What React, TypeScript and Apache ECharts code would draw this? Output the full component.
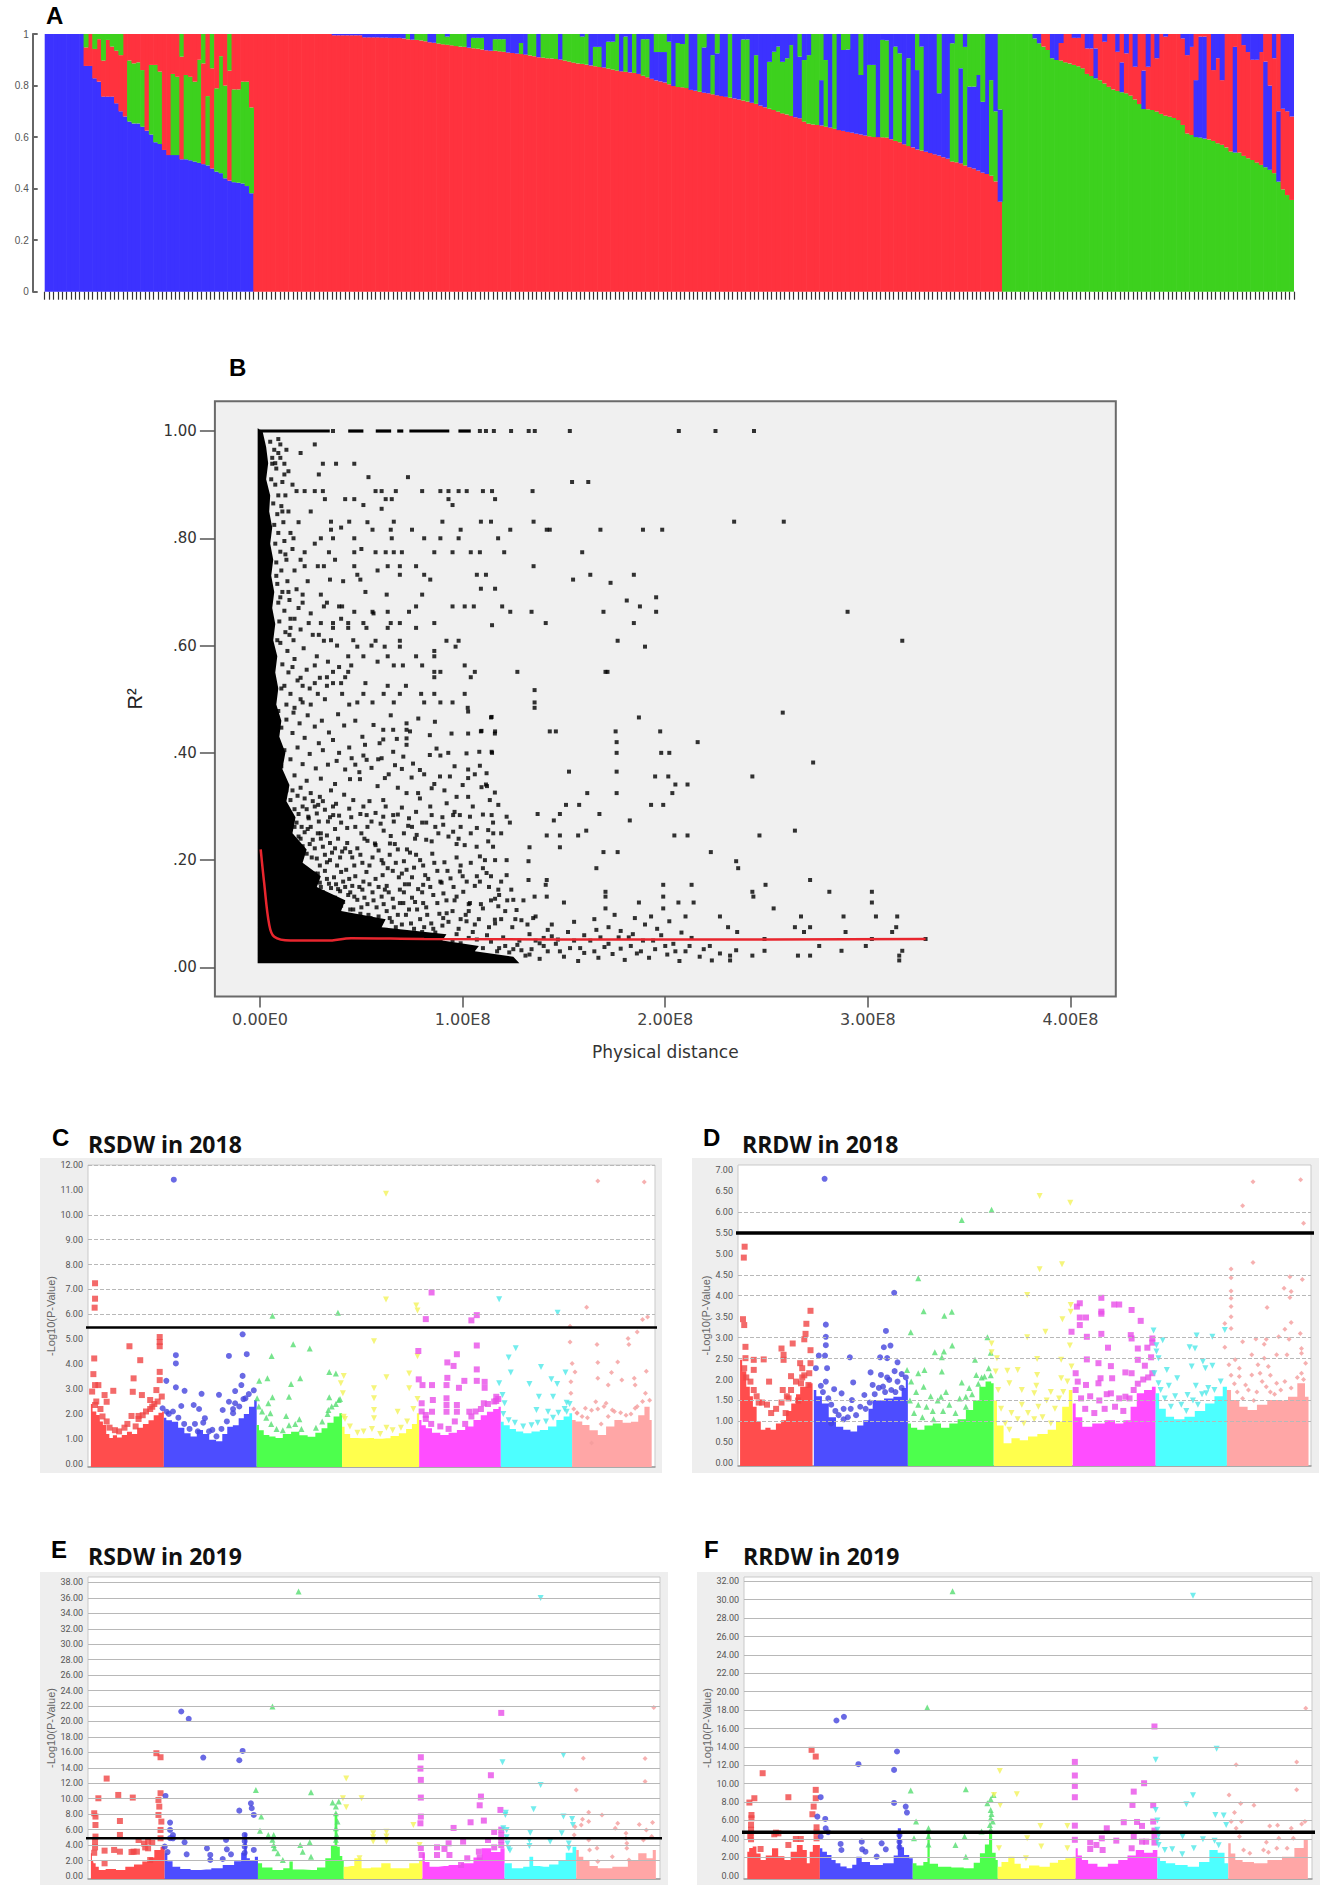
import { useEffect, useRef } from 'react';
import * as echarts from 'echarts';

// ---- A: structure barplot, read per bar (top of first colour, top of second colour, second colour)
const blueTop = [1,1,1,1,1,1,1,1,1,.876,.876,.828,.815,.757,.757,.757,.731,.70,.68,.66,.653,.653,.64,.625,.61,.58,.573,.55,.53,.53,.53,.514,.514,.51,.505,.50,.495,.49,.478,.466,.46,.44,.431,.425,.423,.42,.41,.382];
const blueMid = [1,1,1,1,1,1,1,1,1,.948,1,.942,.98,.897,.977,.951,.935,.918,1,.897,.886,.89,.86,1,.88,.88,.854,1,1,.845,.834,.912,.841,.834,.815,.90,.886,.759,.867,.789,.914,.80,.858,.785,.785,.815,.815,.715];
const blueSecond = 'rrrrrrrrrr' + 'rrrrrrrrrg' + 'gggrgggrrg' + 'grggggrgrg' + 'ggrggggg';

const redTop = [1,1,1,1,1,1,1,1,1,1,1,1,1,1,1,1,1,1,.995,.995,.995,.995,.995,.995,.995,.987,.987,.987,.987,.986,.986,.985,.985,.985,.983,
  .98,.978,.977,.975,.972,.968,.966,.963,.96,.958,.956,.953,.951,.95,.947,.945,.943,.94,.937,.935,.935,.933,.931,.928,.926,.924,.922,.92,.917,.914,.91,.908,.906,.905,.903,.901,.897,.893,.889,.886,.884,.881,.878,.875,.872,.87,.866,.862,.858,.855,.853,.851,.849,.845,.838,.832,.826,.82,.816,.812,.805,.798,.794,
  .793,.79,.783,.78,.776,.772,.77,.766,.762,.759,.756,.753,.75,.746,.742,.738,.733,.729,.722,.716,.71,.705,.699,.692,.688,.682,.677,.673,.66,.652,.649,.647,.645,.64,.637,.632,.627,.624,.62,.617,.613,.61,.606,.603,.6,.6,.599,.598,.592,.585,.58,.572,.565,.56,.552,.548,.543,.538,.533,.528,.522,.516,.505,.502,.498,.49,.483,.478,.47,.462,.457,.45,.428,.349];
const redMid = [1,1,1,1,1,1,1,1,1,1,1,1,1,1,1,1,1,1,1,1,1,1,1,1,1,1,1,1,1,1,1,1,1,1,1,
  1,1,1,1,1,1,1,1,1,.99,1,1,1,1,1,.985,.985,.985,1,1,.98,.98,.98,1,1,1,.965,1,1,1,1,1,1,1,1,1,1,1,1,1,.99,1,1,.95,.95,1,.97,.97,1,1,.99,1,1,1,.98,.98,1,.93,.93,.93,.97,1,.965,
  .961,1,1,1,1,.948,1,.918,.925,1,1,1,1,1,.979,.979,1,.918,1,1,.892,.931,.951,.892,.906,.957,1,.912,.899,.918,1,1,.821,.899,1,1,1,.938,.94,1,1,.841,1,.88,.88,1,.977,.975,1,.951,.925,1,.906,1,.86,.951,1,1,1,.77,1,1,.964,1,.867,.95,.796,.796,.841,.737,1,.821,.70,.707];
const redSecond = 'bbbbbbbbbb' + 'bbbbbbbbbb' + 'bbbbbbbbbb' + 'bbbbbgbggg' + 'bbgggggggb' + 'gggbbgggbb' + 'bgbggbgggg' + 'bggggggbgg' + 'bgggbgbgbg' + 'gbbbbgbggg'
  + 'bbgbbgbbbg' + 'bbggbgbbgg' + 'ggggbbgggg' + 'bgbgbbbbbb' + 'bggbggbggb' + 'gbbgbbbbbb' + 'ggbgbbbbbg' + 'gb';

const greenTop = [1,1,1,1,1,1,1,.983,.964,.951,.938,.906,.899,.897,.89,.886,.88,.875,.867,.845,.837,.828,.821,.808,.795,.785,.779,.774,.77,.761,.746,.728,.709,.708,.705,.699,.69,.683,.679,.674,.666,.647,.614,.608,.60,.598,.594,.591,.585,.576,.57,.56,.544,.54,.54,.527,.518,.511,.501,.492,.483,.473,.46,.427,.397,.375,.356];
const greenMid = [1,1,1,1,1,1,1,1,1,1,1,1,1,.965,1,1,.985,.985,1,.944,.944,.944,1,.97,1,1,.931,.89,.925,1,.873,1,.858,.873,1,.906,1,.99,1,1,1,.983,.918,.95,.821,.99,.99,1,.86,.906,.821,1,1,.95,1,.957,.93,.9,.9,.93,.893,.80,.906,.70,.71,.70,.68];
const greenSecond = 'rrrrrrrbbr' + 'rbbrrrrrrr' + 'rbrrrrrbrr' + 'rrbrrrrrrr' + 'rrrrbbbrrr' + 'rrrbrrrrrr' + 'bbrbrrr';

const structureTicks = [0, 0.2, 0.4, 0.6, 0.8, 1];

// ---- B: LD decay (distance in units of 1e8, R2)
const ldXTicks = [0, 1, 2, 3, 4];
const ldYTicks = [0, 0.2, 0.4, 0.6, 0.8, 1];
const ldCurve = [[.003,.22],[.02,.158],[.045,.08],[.07,.057],[.15,.05],[.33,.05],[.45,.0545],[.81,.053],[2.02,.052],[3.285,.053]];
// solid black where the points merge
const ldMass = [[-.012,1.005],[.012,1],[.03,.97],[.04,.94],[.03,.91],[.05,.88],[.045,.85],[.06,.82],[.05,.79],[.065,.76],[.055,.73],[.07,.7],[.06,.67],[.075,.64],[.065,.61],[.085,.58],[.075,.55],[.09,.52],[.08,.49],[.105,.46],[.095,.43],[.125,.40],[.11,.37],[.145,.34],[.13,.31],[.175,.28],[.16,.25],[.23,.22],[.21,.195],[.3,.17],[.28,.15],[.42,.125],[.4,.105],[.62,.09],[.6,.075],[.92,.062],[.9,.05],[1.08,.04],[1.06,.03],[1.25,.02],[1.28,.008],[-.012,.008]];
const ldTopRuns = [[0,.344],[.435,.51],[.571,.647],[.677,.707],[.737,.934],[.979,1.04]];
const ldRows: [number, number[]][] = [
  [1,[.36,1.085,1.115,1.154,1.239,1.326,1.356,1.529,2.067,2.248,2.438]],
  [.975,[.1,.27]],[.959,[.09,.2]],[.939,[.06,.12,.31,.375,.465]],[.919,[.12,.29]],[.914,[.535,.73]],[.905,[1.54,1.62]],
  [.888,[.18,.22,.27,.31,.57,.6,.67,.8,.89,.93,.98,1.02,1.1,1.145,1.345]],
  [.873,[.32,.42,.465,.62,.65,.93,1.16]],[.862,[.95,.51]],[.855,[.6]],
  [.831,[.35,.44,.66,.9,1.09,1.14,1.35,2.34,2.585]],
  [.816,[.35,.555,.645,.75,.99,1.235,1.415,1.43,1.68,1.89,1.985]],
  [.8,[.165,.3,.36,.465,.65,.81,.89,.98,1.175]],
  [.774,[.22,.34,.465,.57,.62,.66,.7,.86,.95,1.04,1.085,1.205,1.59]],
  [.748,[.22,.285,.315,.465,.63,.69,.77,1.35]],
  [.732,[.48,.69,.81,1.07,1.115,1.63,1.845]],[.723,[.345,.495,.84,1.545]],[.717,[1.73]],[.706,[1.09,1.16]],
  [.695,[.21,.3,.625,.8]],[.684,[1.81]],[.69,[1.955]],
  [.673,[.315,.39,.405,.77,.95,1.01,1.055,1.195,1.875]],
  [.663,[.465,.555,.63,.735,1.235,1.34,1.695,1.955,2.9]],
  [.642,[.24,.3,.36,.435,.51,.645,.69,.86,1.41,1.845]],[.638,[1.145]],
  [.633,[.15,.36,.435,.525,.63,.77]],
  [.609,[.315,.57,.69,.92,.98,1.765,3.17]],[.598,[.48,.615,.69,.965,1.9]],[.59,[.86]],
  [.58,[.435,.51,.63,.77,.86]],[.563,[.27,.45,.66,.705,.8,1.01]],
  [.551,[.36,.435,.86,.89,1.06,1.27,1.705,1.715]],[.541,[.33,.42,.86,1.04]],
  [.525,[.21,.33,.63,.72]],[.517,[1.355]],[.51,[.285,.405,.51,.69,.795,.86,1.01]],
  [.494,[.21,.48,.555,.66,.81,.89,.95,1.355]],[.484,[1.355,1.025]],[.475,[2.58]],
  [.466,[1.14,1.87]],[.44,[1.09,1.16,1.43,1.46,1.755,1.975]],[.42,[1.76,2.16]],[.4,[1.145,1.76,1.98,2.02]],[.382,[2.73]],
  [.365,[1.525,1.76]],[.356,[1.95,2.015,2.43]],[.341,[1.115,2.05,2.11]],[.325,[1.615,1.76,2.035]],
  [.303,[1.51,1.575,1.93,1.99]],[.286,[1.37,1.48,1.675]],[.274,[1.45,1.825]],[.255,[1.61,2.64]],
  [.246,[1.415,1.48,1.57,2.045,2.11,2.465]],[.224,[1.33,1.48]],[.215,[1.695,1.765,2.225]],
  [.198,[1.325,2.35]],[.185,[1.66,2.36]],[.163,[1.325,1.415,2.715]],[.154,[1.41,1.99,2.13,2.495]],
  [.141,[1.705,2.43,2.81,3.02]],[.132,[1.355,1.415,1.705,1.99,2.435]],[.121,[1.5,1.87,2.065,2.14,3.02]],
  [.11,[1.705,1.99,2.535]],[.095,[1.93,2.1,2.27,2.67,2.88,3.04,3.145]],[.075,[2.31,2.64,2.715,3.14]],
  [.066,[2.355,2.685,2.89,3.12]],[.053,[2.49,3.02,3.285]],[.04,[2.76,2.99]],[.031,[2.49,2.87,3.17]],
  [.022,[2.32,2.43,2.655,2.715,3.155]],[.013,[2.23,2.32,3.155]],
];
// upper halo beside the solid column
const ldHalo = [
  [.05,.98],[.07,.965],[.09,.985],[.06,.95],[.08,.93],[.1,.95],[.13,.965],[.055,.91],[.075,.9],[.09,.88],[.11,.905],[.14,.925],[.065,.865],[.085,.845],[.105,.86],[.125,.88],[.16,.9],[.07,.825],[.09,.81],[.115,.83],[.14,.85],[.075,.79],[.1,.775],[.12,.795],[.15,.81],[.19,.83],[.08,.755],[.105,.74],[.13,.76],[.16,.78],[.085,.715],[.11,.7],[.135,.72],[.17,.74],[.2,.76],[.09,.68],[.12,.665],[.145,.685],[.18,.705],[.235,.72],[.095,.645],[.125,.625],[.15,.65],[.19,.67],[.1,.605],[.135,.59],[.165,.61],[.2,.63],[.25,.66],[.11,.565],[.14,.55],[.17,.575],[.215,.595],[.26,.62],[.12,.525],[.15,.51],[.185,.535],[.23,.555],[.28,.58],[.13,.49],[.165,.475],[.2,.5],[.245,.52],[.295,.54],[.335,.57],[.38,.6],[.4,.53],[.44,.49],[.52,.53],[.58,.57],[.61,.51],[.55,.6],[.4,.65],[.46,.61],[.33,.68],[.41,.72],[.52,.7],[.56,.66],[.37,.76],[.5,.78],[.27,.79],[.4,.82],[.58,.74],[.53,.83],[.25,.85],[.14,.7],[.2,.54],[.125,.77],[.085,.61],[.105,.52],[.16,.56],[.1,.69],[.17,.65],[.08,.73],[.145,.62],[.21,.68],[.11,.85],[.075,.94],[.27,.53],[.32,.5],[.36,.53],[.25,.49],[.29,.62],[.35,.61],[.39,.56],
];
// clumps in the speckled part of the cloud
const ldCloud = [
  [1.027,.477],[1.143,.467],[.863,.458],[.781,.464],[.723,.455],[.723,.443],[.608,.443],[.657,.443],[.838,.433],[.945,.436],[1.027,.436],[1.093,.441],[1.159,.436],[.723,.427],[.608,.425],[.518,.415],[.723,.415],[.657,.402],[.707,.393],[.838,.396],[.871,.408],[.929,.4],[1.019,.399],[1.082,.402],[1.143,.402],[.378,.385],[.526,.387],[.583,.388],[.452,.39],[.666,.377],[.789,.368],[1.085,.376],[1.027,.369],[1.118,.362],[.616,.353],[.444,.351],[.493,.351],[.937,.356],[1.027,.353],[.748,.354],[.888,.356],[1.093,.336],[1.159,.326],[.789,.315],[.847,.334],[.723,.325],[.608,.312],[.97,.318],[1.027,.318],[.921,.306],[1.134,.312],[1.176,.303],[.847,.284],[1.036,.281],[.986,.284],[.953,.284],[1.143,.284],[1.217,.281],[1.233,.27],[.608,.281],[.657,.284],[.526,.284],[.238,.281],[.361,.284],[.287,.303],[.731,.264],[.773,.247],[.904,.266],[.953,.253],[1.126,.256],[1.151,.25],[1.126,.235],[1.069,.225],[.567,.231],[.641,.231],[.847,.235],[.97,.23],[1.085,.207],[1.217,.2],[.986,.179],[1.118,.176],[1.217,.172],[.896,.158],[1.003,.141],[1.176,.145],[1.085,.16],[.805,.154],[.723,.182],[.608,.194],[.69,.145],[.616,.145],[.921,.101],[1.036,.12],[1.176,.114],[1.25,.126],[1.266,.107],[1.348,.092],[1.159,.089],[1.019,.086],[.904,.092],[.805,.12],[.707,.12],
  [.09,.478],[.13,.462],[.105,.447],[.17,.484],[.195,.455],[.16,.437],[.235,.47],[.27,.449],[.22,.428],[.305,.46],[.34,.438],[.29,.418],[.385,.472],[.415,.451],[.36,.424],[.47,.46],[.505,.43],[.44,.41],[.56,.452],[.59,.418],[.645,.47],[.675,.426],[.74,.44],
  [.12,.405],[.15,.388],[.105,.375],[.185,.41],[.21,.379],[.17,.358],[.245,.398],[.275,.371],[.23,.348],[.31,.405],[.335,.378],[.3,.352],[.39,.4],[.42,.369],[.37,.342],[.47,.378],[.51,.395],[.49,.364],[.55,.372],[.6,.39],[.58,.338],[.635,.36],[.7,.37],[.68,.335],[.755,.38],[.81,.36],[.78,.325],[.89,.395],[.86,.342],[.91,.33],[.96,.375],[1.0,.34],[1.06,.36],[1.12,.338],
  [.13,.33],[.15,.312],[.17,.295],[.2,.335],[.22,.315],[.19,.286],[.25,.325],[.27,.3],[.24,.278],[.295,.318],[.32,.294],[.29,.272],[.35,.33],[.375,.305],[.345,.28],[.415,.322],[.44,.296],[.4,.27],[.46,.312],[.495,.286],[.47,.262],[.54,.31],[.57,.288],[.53,.262],[.595,.268],[.62,.3],[.66,.272],[.645,.245],[.7,.298],[.735,.278],[.71,.25],[.77,.29],[.8,.27],[.765,.24],[.84,.3],[.865,.262],[.82,.238],[.9,.28],[.93,.244],[.96,.29],[.99,.262],[1.01,.228],[1.05,.3],[1.07,.26],[1.1,.285],[1.15,.27],[1.19,.25],[1.15,.225],
  [.17,.262],[.19,.244],[.21,.226],[.235,.258],[.26,.238],[.23,.212],[.285,.25],[.31,.225],[.28,.203],[.33,.246],[.355,.214],[.33,.196],[.385,.24],[.405,.216],[.38,.19],[.43,.232],[.455,.205],[.425,.182],[.48,.222],[.505,.195],[.47,.17],[.53,.236],[.555,.205],[.525,.178],[.585,.218],[.605,.172],[.64,.21],[.655,.18],[.625,.152],[.68,.22],[.71,.198],[.685,.168],[.74,.214],[.76,.186],[.735,.155],[.79,.2],[.815,.172],[.78,.146],[.85,.212],[.875,.18],[.84,.15],[.91,.196],[.94,.166],[.905,.138],[.97,.205],[1.0,.17],[.97,.132],[1.04,.195],[1.06,.152],[1.03,.118],[1.1,.185],[1.13,.15],[1.09,.118],[1.16,.2],[1.19,.16],[1.16,.128],[1.24,.145],[1.21,.105],[1.3,.125],[1.29,.088],
  [.27,.175],[.295,.158],[.32,.18],[.34,.156],[.31,.14],[.365,.168],[.385,.146],[.355,.125],[.41,.16],[.435,.135],[.4,.115],[.455,.152],[.48,.126],[.445,.108],[.505,.145],[.53,.118],[.495,.1],[.555,.14],[.575,.112],[.545,.092],[.6,.132],[.625,.105],[.655,.128],[.68,.098],[.65,.085],[.71,.14],[.735,.108],[.7,.08],[.765,.122],[.79,.09],[.76,.072],[.82,.112],[.845,.082],[.875,.12],[.9,.078],[.865,.065],[.95,.105],[.98,.072],[1.015,.098],[1.05,.066],[1.08,.09],[1.12,.06],[1.16,.082],[1.2,.056],[1.245,.075],[1.28,.05],[1.33,.062],[1.38,.045],[1.42,.07],[1.47,.052],
  [1.18,.036],[1.23,.028],[1.27,.042],[1.31,.022],[1.34,.034],[1.38,.016],[1.42,.03],[1.46,.044],[1.5,.02],[1.53,.036],[1.57,.012],[1.6,.027],[1.63,.05],[1.67,.018],[1.7,.038],[1.74,.025],[1.77,.056],[1.8,.014],[1.83,.04],[1.86,.026],[1.89,.05],[1.92,.018],[1.95,.034],[1.98,.06],[2.01,.024],[2.04,.044],[2.07,.012],[2.1,.03],[2.13,.055],[2.17,.02],[2.22,.04],[2.27,.026],[2.35,.032],[1.44,.058],[1.52,.066],[1.6,.06],[1.66,.07],[1.72,.075],[1.78,.068],[1.84,.062],[1.9,.08],[1.96,.072],[2.02,.086],[2.08,.065],[1.55,.085],[1.65,.09],[1.75,.098],[1.85,.092],
];
// the darkest speckle, low on the left
const ldCloudDense = [
  [.16,.33],[.185,.32],[.21,.3],[.14,.29],[.23,.295],[.18,.27],[.26,.31],[.205,.262],[.31,.31],[.28,.287],[.25,.262],[.36,.3],[.335,.272],[.3,.25],[.39,.283],[.43,.26],[.37,.258],[.45,.28],[.51,.3],[.55,.272],[.5,.25],[.61,.255],[.68,.285],[.75,.262],[.82,.27],[.88,.25],[.98,.24],[1.04,.25],
  [.2,.24],[.22,.252],[.245,.23],[.27,.222],[.255,.205],[.3,.24],[.32,.21],[.295,.19],[.345,.232],[.37,.222],[.345,.2],[.395,.205],[.42,.222],[.4,.178],[.445,.215],[.465,.19],[.44,.165],[.495,.21],[.515,.24],[.54,.19],[.51,.16],[.57,.228],[.6,.2],[.57,.165],[.63,.185],[.665,.23],[.67,.195],[.7,.175],[.725,.22],[.75,.168],[.77,.21],[.805,.19],[.83,.165],[.86,.195],[.89,.16],[.925,.18],[.955,.15],[.99,.19],[1.02,.16],[1.07,.17],[1.11,.2],[1.14,.17],[1.18,.135],
  [.24,.17],[.26,.158],[.285,.175],[.3,.15],[.33,.165],[.32,.135],[.35,.148],[.375,.155],[.37,.13],[.395,.142],[.42,.15],[.41,.122],[.445,.14],[.465,.132],[.46,.108],[.49,.15],[.515,.13],[.5,.112],[.54,.155],[.56,.125],[.535,.098],[.585,.15],[.61,.118],[.585,.095],[.635,.14],[.66,.112],[.64,.092],[.69,.12],[.715,.155],[.72,.098],[.75,.13],[.775,.108],[.745,.082],[.8,.14],[.825,.098],[.81,.075],[.855,.135],[.885,.1],[.855,.072],[.92,.125],[.93,.085],[.96,.125],[.99,.09],[.97,.062],[1.03,.105],[1.06,.08],[1.1,.11],[1.13,.075],[1.14,.125],[1.19,.09],[1.22,.125],[1.26,.09],[1.32,.08],[1.36,.095],[1.4,.055],[1.44,.08],
  [.44,.095],[.47,.088],[.51,.082],[.54,.076],[.58,.08],[.62,.07],[.67,.075],[.72,.065],[.77,.058],[.8,.066],[.84,.052],[.88,.056],[.95,.05],[.99,.045],[1.03,.055],[1.07,.052],[1.1,.036],[1.14,.048],[1.17,.03],[1.21,.04],[1.25,.034],[1.29,.032],[1.33,.024],[1.36,.05],[1.4,.04],[1.48,.03],[1.55,.05],[1.58,.036],[1.65,.03],[1.68,.056],[1.72,.044],[1.78,.035],[1.82,.056],[1.88,.03],[1.94,.05],[2.0,.04],[2.05,.03],[2.12,.04],[2.19,.034],
];

const chromColors = ['#ff4d4d', '#4d4dff', '#4dff4d', '#ffff4d', '#ff4dff', '#4dffff', '#ffa6a6'];
const hitColors = ['#f04545', '#4444dd', '#55dd70', '#f2f25a', '#e84fe8', '#4fe8e8', '#f49c9c'];
const chromSymbols = ['rect', 'circle', 'triangle', 'triangle', 'rect', 'triangle', 'diamond'];
const chromRotate = [0, 0, 0, 180, 0, 180, 0];

const cTicks = [0,1,2,3,4,5,6,7,8,9,10,11,12];
const cGrid = [12,10,9,8,7,6];
const cBase = [
  [[147,2.4],[155,2.1],[165,1.96],[172,1.7],[180,1.56],[188,1.2],[195,1.03],[205,1.15],[215,1.05],[228,1.16],[240,1.29],[252,1.2],[265,1.45],[280,1.6],[292,1.75],[305,1.95],[315,2.05],[323,2.1]],
  [[323,1.85],[335,1.75],[350,1.69],[365,1.45],[380,1.23],[395,1.1],[410,1.36],[425,1.2],[440,.96],[458,.9],[470,1.2],[482,1.49],[497,1.55],[510,1.83],[522,2],[535,2.29],[547,2.56]],
  [[547,1.56],[558,1.35],[570,1.16],[585,1.1],[600,1.03],[620,1.2],[640,1.29],[660,1.15],[680,1.09],[697,1.25],[710,1.43],[725,1.65],[740,1.9],[753,2.03]],
  [[753,1.49],[765,1.2],[780,1.03],[800,1.02],[820,1.03],[840,1],[860,1.02],[880,1.12],[900,1.23],[915,1.4],[928,1.6],[939,2.03]],
  [[939,1.76],[950,1.55],[960,1.43],[980,1.25],[1000,1.16],[1020,1.25],[1040,1.36],[1060,1.5],[1080,1.76],[1095,1.95],[1110,2.09],[1125,2.2],[1136,2.29]],
  [[1136,1.69],[1150,1.55],[1165,1.4],[1180,1.3],[1200,1.23],[1220,1.3],[1240,1.36],[1260,1.5],[1280,1.76],[1295,1.9],[1308,2.03]],
  [[1308,1.76],[1325,1.7],[1340,1.56],[1360,1.35],[1380,1.16],[1400,1.5],[1420,1.76],[1440,1.65],[1460,1.69],[1475,1.95],[1490,2.29],[1500,1.76]],
];
const cHits = [
  [[157,7.25],[157,6.63],[156,6.27],[155,4.23],[153,3.6],[157,3.16],[157,2.36],[180,2.76],[185,2.49],[201,2.93],[240,4.72],[266,4.16],[250,3.43],[248,2.89],[270,2.76],[290,2.56],[295,2.29],[245,1.92],[262,1.92],[313,5.09],[313,4.89],[313,4.72],[313,3.69],[313,3.36],[305,2.96],[165,3.16],
   [150,2.9],[160,2.5],[170,2.2],[175,1.9],[185,1.7],[192,1.45],[205,1.35],[215,1.3],[228,1.45],[235,1.6],[255,1.5],[262,1.8],[272,1.95],[280,2.1],[290,2.2],[300,2.4],[308,2.5],[318,2.7]],
  [[347,11.41],[352,4.36],[352,4.03],[329,3.33],[352,3.07],[373,2.93],[414,2.81],[456,2.77],[480,4.33],[513,5.2],[523,4.4],[513,3.53],[510,3.16],[495,2.92],[480,2.49],[495,2.43],[365,2.32],[395,2.36],[408,2.2],[320,2.23],[330,2.09],[465,2.16],[520,2.63],[490,2.03],[422,1.83],[440,1.36],
   [335,2],[345,2.1],[358,1.85],[372,1.6],[385,1.4],[398,1.6],[405,1.3],[418,1.65],[432,1.3],[450,1.1],[462,1.4],[475,1.7],[490,2.2],[505,2.3],[515,2.6],[528,2.8],[540,2.95]],
  [[585,5.95],[743,6.07],[635,4.8],[675,4.63],[583,4.33],[722,3.69],[738,3.63],[573,3.43],[553,3.33],[652,3.43],[630,3.2],[625,2.69],[585,2.67],[548,2.63],[575,2.43],[722,2.67],[745,2.56],[720,2.16],[580,2.03],[618,1.92],[650,1.79],
   [552,2.3],[560,2.1],[570,1.85],[582,1.6],[595,1.4],[610,1.35],[625,1.55],[640,1.6],[655,1.4],[690,1.45],[705,1.7],[718,2],[728,2.3],[738,2.4],[748,2.6]],
  [[859,10.85],[859,6.6],[932,6.36],[935,6.16],[830,4.92],[935,4.32],[915,3.63],[757,3.53],[860,3.47],[750,3.23],[755,2.83],[915,3.03],[830,3.03],[830,2.63],[830,2.16],[887,2.09],[757,1.89],[830,1.83],
   [760,1.8],[772,1.5],[790,1.25],[805,1.3],[825,1.4],[845,1.2],[860,1.45],[875,1.35],[895,1.45],[910,1.7],[925,2.2],[935,2.6]],
  [[969,6.88],[955,5.81],[1065,5.76],[1078,5.97],[937,4.53],[1078,4.75],[1030,4.4],[1007,4.07],[1022,3.93],[1078,3.79],[938,3.39],[1007,3.45],[1048,3.33],[1078,3.33],[1097,3.29],[947,3.16],[970,3.16],[1005,3.16],[1035,3.05],[1097,3.05],[1005,2.63],[972,2.56],[1125,2.69],[1125,2.52],[1095,2.43],[945,2.43],[1005,2.36],[1030,2.36],[1030,2.09],[970,2.09],[955,1.96],[1005,2.09],[1060,2.09],
   [945,2.1],[955,1.8],[968,1.6],[990,1.5],[1010,1.4],[1025,1.7],[1050,1.6],[1065,1.9],[1075,2.1],[1088,2.2],[1105,2.4],[1120,2.5],[1130,2.6]],
  [[1132,6.61],[1273,6.07],[1172,4.64],[1155,4.27],[1160,3.67],[1233,3.89],[1292,3.67],[1258,3.39],[1132,3.23],[1205,3.2],[1272,3.2],[1228,2.69],[1262,2.69],[1140,2.76],[1145,2.43],[1295,2.45],[1222,2.16],[1250,2.09],[1295,2.09],
   [1142,2],[1155,1.75],[1170,1.65],[1190,1.5],[1210,1.55],[1225,1.65],[1245,1.7],[1262,1.85],[1275,2.05],[1290,2.2],[1302,2.4]],
  [[1370,11.36],[1482,11.32],[1343,6.29],[1490,5.89],[1478,5.79],[1303,5.52],[1465,5.29],[1443,5.03],[1303,4.89],[1445,4.79],[1368,4.79],[1418,4.09],[1370,4.07],[1308,4.03],[1487,3.72],[1315,3.69],[1403,3.67],[1370,3.43],[1428,3.36],[1458,3.43],[1305,3.29],[1395,3.16],[1460,3.16],[1305,2.83],[1485,2.83],[1365,2.49],[1390,2.43],[1340,2.23],[1320,2.03],[1405,2.16],[1460,2.23],[1355,.83],
   [1312,2.2],[1320,2.05],[1332,1.9],[1345,1.85],[1355,2.15],[1370,2.2],[1385,2.3],[1378,1.6],[1395,1.9],[1410,2.1],[1425,2.05],[1438,1.95],[1450,2],[1465,2.3],[1478,2.5],[1495,2.55]],
];

const dTicks = [0,.5,1,1.5,2,2.5,3,3.5,4,4.5,5,5.5,6,6.5,7];
const dGrid = [6,4.5,4,3,2.5,1.5,1];
const dBase = [
  [[145,2.47],[155,2.2],[165,1.83],[172,1.6],[180,1.35],[190,1],[200,.8],[212,.85],[225,.8],[238,.95],[250,1.03],[262,1.25],[275,1.43],[285,1.65],[295,1.83],[320,1.91]],
  [[323,1.75],[335,1.6],[350,1.43],[368,1.1],[385,.87],[403,.8],[420,.76],[435,.9],[450,1.03],[460,1.3],[470,1.51],[485,1.5],[500,1.55],[530,1.59],[540,1.8],[550,1.99]],
  [[550,.95],[565,.85],[580,.8],[600,.9],[620,.95],[640,.85],[660,.95],[680,1.05],[700,1.27],[715,1.5],[730,1.83],[745,1.95],[757,1.91]],
  [[758,1.5],[772,.9],[790,.48],[810,.6],[830,.55],[850,.64],[875,.7],[900,.8],[915,1],[930,1.35],[947,1.75]],
  [[948,1.43],[962,1.1],[980,.875],[1010,.95],[1040,1.03],[1060,.95],[1080,1.03],[1095,1.35],[1110,1.67],[1130,1.75],[1148,1.83]],
  [[1148,1.67],[1165,1.3],[1180,1.11],[1205,1.05],[1230,1.11],[1255,1.25],[1280,1.43],[1300,1.6],[1320,1.83]],
  [[1320,1.75],[1340,1.51],[1360,1.35],[1380,1.27],[1405,1.4],[1430,1.51],[1455,1.5],[1480,1.59],[1500,1.91],[1517,1.59]],
];
const dHits = [
  [[156,5.17],[154,4.91],[152,3.44],[155,3.3],[315,3.64],[305,3.33],[303,3.09],[300,2.96],[158,2.78],[272,2.86],[245,2.74],[250,2.59],[315,2.7],[158,2.51],[178,2.47],[202,2.48],[250,2.47],[290,2.39],[315,2.39],[178,2.23],[295,2.27],[155,2.27],[268,2.08],[215,1.95],[292,1.91],[310,1.87],
   [160,2.05],[170,1.95],[178,1.75],[185,1.6],[190,1.45],[198,1.45],[210,1.4],[220,1.2],[232,1.3],[245,1.45],[258,1.6],[248,1.75],[268,1.75],[280,1.95],[262,1.55],[300,2.1],[295,2.05],[285,1.5],[312,2.15],[255,1.2]],
  [[349,6.79],[517,4.07],[352,3.31],[497,3.16],[352,3.02],[352,2.82],[492,2.77],[508,2.81],[335,2.57],[350,2.57],[410,2.53],[483,2.53],[500,2.51],[525,2.41],[328,2.27],[355,2.27],[460,2.17],[535,2.13],[485,2.11],[505,1.99],[525,1.95],[352,1.95],[418,1.93],[465,1.87],[372,1.77],[445,1.63],[490,1.83],[390,1.67],[415,1.51],
   [340,1.85],[345,1.7],[358,1.55],[365,1.4],[375,1.25],[383,1.15],[395,1.3],[405,1.1],[412,1.3],[425,1.15],[435,1.35],[448,1.3],[458,1.45],[470,1.65],[480,1.8],[495,1.7],[510,1.75],[520,1.7],[535,1.8],[500,2.05],[518,2.2],[545,2.05],[395,1.05],[365,.95]],
  [[752,6.05],[680,5.81],[575,4.42],[588,3.63],[638,3.52],[656,3.62],[557,3.13],[742,3.01],[657,2.81],[615,2.65],[637,2.67],[632,2.53],[750,2.64],[712,2.47],[548,2.23],[575,2.15],[590,2.23],[632,2.19],[715,2.11],[745,2.27],[588,1.83],[680,1.93],[630,1.59],[690,1.59],[735,2.07],
   [558,1.95],[570,1.7],[555,1.5],[575,1.4],[565,1.2],[585,1.1],[595,1.35],[610,1.25],[605,1.6],[622,1.5],[635,1.25],[650,1.4],[665,1.2],[675,1.55],[690,1.35],[705,1.65],[720,1.9],[698,1.8],[728,2.05],[750,2.1],[642,1.7],[612,1.05]],
  [[868,6.38],[942,6.22],[868,4.63],[922,4.75],[838,4.02],[943,3.78],[943,3.62],[923,3.44],[882,3.14],[838,3.01],[752,2.86],[941,2.81],[752,2.65],[765,2.51],[862,2.49],[920,2.47],[762,2.19],[790,2.21],[815,2.23],[862,2.11],[920,2.03],[945,2.31],[795,1.91],[825,1.75],[855,1.67],
   [768,1.75],[775,1.3],[785,.95],[800,1.2],[795,.8],[815,1.05],[830,.95],[825,1.4],[840,1.2],[855,1.05],[865,1.35],[875,1.1],[885,1.5],[895,.95],[905,1.3],[915,1.55],[925,1.7],[895,1.7],[860,1.85],[935,1.95]],
  [[1017,3.95],[965,3.82],[958,3.74],[1048,3.79],[1060,3.79],[1090,3.66],[1017,3.62],[1017,3.57],[965,3.48],[980,3.48],[1112,3.4],[965,3.3],[945,3.14],[982,3.02],[1017,3.09],[1088,3.06],[1090,2.98],[1140,2.98],[1140,2.88],[1033,2.76],[1105,2.74],[1128,2.76],[1137,2.53],[982,2.48],[1105,2.47],[1040,2.32],[1010,2.39],[1122,2.33],[955,2.15],[1075,2.17],[1090,2.15],[1015,2.03],[1043,2.03],[960,1.95],[1010,1.91],[980,1.87],[1040,1.67],[1075,1.59],
   [955,1.75],[968,1.55],[978,1.3],[990,1.6],[1000,1.2],[1012,1.5],[1025,1.3],[1030,1.65],[1050,1.35],[1060,1.55],[1070,1.25],[1085,1.55],[1095,1.75],[1105,1.9],[1118,2.0],[1130,2.05],[1140,2.15]],
  [[1143,3.17],[1315,3.18],[1247,3.05],[1285,3.02],[1165,2.94],[1150,2.82],[1230,2.77],[1243,2.74],[1150,2.67],[1155,2.51],[1262,2.43],[1235,2.31],[1175,2.23],[1285,2.33],[1268,2.27],[1145,2.15],[1200,2.03],[1155,1.91],[1225,1.63],[1270,1.67],
   [1160,1.75],[1170,1.55],[1185,1.35],[1195,1.6],[1210,1.4],[1222,1.25],[1238,1.5],[1250,1.4],[1260,1.65],[1275,1.8],[1290,1.75],[1305,1.95],[1180,1.85],[1245,1.85]],
  [[1383,6.72],[1498,6.77],[1358,6.15],[1505,5.73],[1383,4.79],[1330,4.64],[1330,4.43],[1472,4.45],[1502,4.39],[1458,4.18],[1475,4.1],[1472,3.96],[1330,4.11],[1330,3.94],[1417,3.72],[1330,3.74],[1330,3.5],[1315,3.34],[1475,3.36],[1330,3.22],[1460,3.2],[1497,3.1],[1445,3.02],[1390,2.97],[1415,2.96],[1470,2.96],[1358,2.9],[1410,2.84],[1315,2.77],[1500,2.74],[1380,2.59],[1440,2.59],[1410,2.51],[1500,2.63],[1340,2.47],[1465,2.59],[1420,2.31],[1350,2.27],[1510,2.39],[1400,2.15],[1500,2.15],[1350,2.07],[1380,2.11],[1440,1.91],[1365,1.87],[1415,1.83],
   [1325,2.35],[1330,2.1],[1338,1.9],[1345,1.7],[1358,1.55],[1372,1.75],[1385,1.5],[1392,1.7],[1405,1.95],[1425,1.7],[1435,1.65],[1450,1.75],[1460,1.95],[1475,1.8],[1490,2.05],[1505,2.0],[1395,2.35],[1425,2.1]],
];

const eTicks = [0,2,4,6,8,10,12,14,16,18,20,22,24,26,28,30,32,34,36,38];
const eGrid = [2,4,6,8,10,12,14,16,18,20,22,24,26,28,30,32,34,36,38];
const eBase = [
  [[147,2.94],[152,2],[155,1.64],[162,1.2],[170,.78],[195,.9],[220,.78],[240,1.21],[262,1.5],[280,1.86],[295,2.4],[305,3.37],[325,3.8]],
  [[325,2.94],[338,1.9],[350,1.21],[375,.9],[400,.78],[425,.85],[450,.99],[480,1.42],[505,1.9],[514,3],[520,5.53],[526,2.3],[535,2.07],[550,2.5]],
  [[550,1.64],[570,1.1],[600,.78],[622,1],[630,1.86],[638,.85],[680,.78],[705,1.1],[720,2.29],[732,4],[738,8.12],[745,3.8],[750,2.6],[757,2.07]],
  [[757,1.21],[775,1.3],[790,2.29],[810,.99],[835,1.1],[860,1.64],[880,1],[900,.99],[930,1.64],[947,2.07]],
  [[947,2.94],[958,1.8],[970,1.21],[1000,1.3],[1020,1.42],[1060,1.64],[1080,2.4],[1100,3.58],[1125,3.1],[1145,3.58]],
  [[1145,1.64],[1180,.99],[1200,1.2],[1210,2.5],[1218,1.3],[1240,1.21],[1265,1.5],[1285,2.07],[1300,3],[1318,3.8]],
  [[1318,3.37],[1330,2.5],[1340,2.07],[1360,1.3],[1380,.99],[1430,1.21],[1455,2],[1480,2.94],[1495,2.3],[1510,3.37]],
];
const eHits = [
  [[305,15.89],[315,15.37],[185,12.61],[165,10.06],[213,10.49],[248,10.15],[315,10.71],[310,9.84],[155,8.12],[158,7.69],[312,8.98],[310,7.9],[217,7.12],[158,6.6],[317,7.04],[217,5.31],[315,5.96],[158,5.1],[262,4.66],[285,4.45],[285,3.58],[180,3.28],[203,3.37],[217,3.15],[250,3.15],[180,1.64],[290,2.07],[315,4.88],
   [157,4.4],[157,3.7],[155,3],[275,4.2],[295,4.3],[278,3.7],[245,3.1],[258,3.15]],
  [[365,21.29],[383,20.34],[418,15.33],[513,16.19],[505,14.98],[327,10.36],[533,9.41],[505,8.46],[535,8.77],[540,7.9],[338,6.91],[338,5.96],[345,4.88],[518,5.31],[373,4.36],[473,4.66],[427,3.58],[475,3.45],[540,3.37],[378,2.81],[435,2.72],[485,2.81],[465,2.2],[325,3.8],[435,2.07],
   [332,3.1],[338,4.9],[345,5.3],[518,4.5],[518,3.8],[518,3]],
  [[648,36.83],[585,21.93],[545,11.14],[678,10.84],[558,7.69],[555,5.87],[730,9.5],[745,9.63],[738,8.12],[742,7.04],[738,6.17],[575,5.31],[588,5.31],[588,4.02],[590,3.58],[675,4.36],[652,4.02],[658,3.15],[598,2.94],[678,2.5],[610,2.07],
   [740,5.3],[738,4.7],[585,4.7],[738,9]],
  [[763,12.61],[800,10.06],[755,10.06],[763,8.89],[925,6.6],[828,5.53],[860,5.74],[860,4.45],[828,4.45],[940,4],[795,2.29],[828,5],[860,5.1]],
  [[943,15.37],[942,13.9],[943,12.44],[1137,21.11],[1112,13.04],[1088,10.28],[943,10.15],[1085,9.15],[1135,8.55],[943,7.69],[1095,7.17],[1063,6.95],[942,6.82],[1022,6.22],[1120,5.7],[1137,5.31],[1045,4.45],[1137,4.66],[1105,4.66],[982,3.71],[1010,4.23],[1083,3.15],[982,2.72],[1012,2.72],[1055,2.29],[1040,1.42],[945,2.72],
   [943,3.6],[1137,6],[1137,4],[1120,3.7],[1000,3.5],[1085,2.4]],
  [[1232,35.97],[1140,14.72],[1287,15.67],[1232,11.79],[1215,8.64],[1147,7.9],[1287,7.69],[1308,7.38],[1142,6.17],[1207,5.61],[1283,5.53],[1150,5.96],[1310,6.6],[1255,4.45],[1205,3.89],[1155,3.58],[1300,3.58],
   [1148,8.2],[1150,5],[1152,4.2],[1158,3.3],[1205,4.6],[1300,4.2]],
  [[1505,21.8],[1335,15.24],[1484,15.2],[1484,12.22],[1318,11.14],[1348,8.25],[1380,7.9],[1333,7.34],[1348,7.04],[1470,6.65],[1502,6.91],[1418,6.82],[1330,6.6],[1315,6.38],[1412,6.17],[1487,5.96],[1438,5.53],[1313,5.31],[1500,5.1],[1438,4.88],[1348,4.66],[1480,4.66],[1440,4.23],[1368,3.58],[1350,3.37],[1440,3.58],[1405,2.5],[1445,2.07],[1370,1.86]],
];

const fTicks = [0,2,4,6,8,10,12,14,16,18,20,22,24,26,28,30,32];
const fGrid = [2,4,6,8,10,12,14,16,18,20,22,24,26,28,30,32];
const fBase = [
  [[163,2.61],[172,3],[180,3.16],[190,2.4],[200,1.71],[215,2.2],[230,2.98],[245,2.1],[260,1.71],[275,2.6],[290,3.34],[303,2.8],[310,1.34],[317,2.6],[325,3.34],[338,3.34]],
  [[338,2.98],[350,2.6],[360,2.25],[372,1.7],[380,1.34],[395,1],[410,.8],[422,1.2],[430,2.07],[448,1.5],[470,1.16],[510,1.34],[522,2.2],[530,5.15],[537,3.1],[545,2.25],[562,1.89]],
  [[562,1.34],[580,1.1],[595,1.5],[600,4.9],[606,1.3],[640,.98],[670,.9],[700,.8],[718,1.4],[730,2.43],[742,3.4],[750,4.61],[757,2.5],[767,1.71]],
  [[767,.98],[785,1.5],[800,2.07],[815,1.3],[830,.8],[855,1.1],[880,.98],[905,1.4],[920,1.71],[940,1.9],[955,2.07]],
  [[955,2.98],[965,2.2],[975,1.71],[995,1.3],[1020,.98],[1045,1.3],[1070,1.71],[1090,2.2],[1110,2.79],[1130,2.5],[1152,2.79]],
  [[1152,2.07],[1165,1.6],[1180,1.34],[1210,1.16],[1240,.98],[1265,1.5],[1290,2.79],[1305,2.5],[1323,1.34]],
  [[1323,3.52],[1335,2.4],[1345,1.71],[1370,1.5],[1400,1.34],[1435,1.7],[1470,2.07],[1495,3],[1515,3.88]],
];
const fHits = [
  [[318,13.68],[328,12.95],[200,11.14],[328,9.33],[180,8.42],[168,7.95],[262,8.53],[328,8.42],[323,7.51],[320,6.68],[173,6.6],[173,6.24],[330,5.26],[172,5.52],[172,4.61],[232,4.68],[172,3.96],[280,3.99],[292,3.99],[262,3.34],[330,4.06],[195,2.9],
   [172,5],[170,4.3],[330,4.7],[228,4.5],[238,4.6]],
  [[378,16.87],[396,17.27],[524,13.5],[431,12.12],[517,11.5],[340,8.53],[517,7.91],[545,7.51],[548,6.86],[332,6.42],[351,6.17],[352,5.15],[358,4.72],[340,4.25],[388,3.45],[439,3.7],[487,3.52],[440,2.87],[497,2.87],[390,2.79],[448,2.61],[475,2.07],
   [530,4.4],[530,3.7],[530,3.1]],
  [[658,30.91],[597,18.29],[557,9.25],[690,9.4],[757,8.78],[742,7.87],[750,7.15],[755,5.88],[750,6.24],[570,5.88],[600,5.15],[565,4.06],[687,4.25],[665,3.34],[690,2.07],
   [750,8.3],[752,6.7],[748,5.5],[750,5],[600,4.3],[600,3.4],[728,4.8]],
  [[772,11.39],[758,8.78],[813,8.85],[773,7.69],[870,5.41],[935,5.41],[838,4.06],[872,3.16],[935,2.98],[770,2.98],[835,1.89]],
  [[953,12.37],[953,10.89],[953,9.76],[953,8.53],[1145,16.22],[1120,10.05],[1095,9.14],[1142,7.66],[1092,7.69],[1071,5.81],[1103,5.84],[1142,5.88],[1115,5.41],[953,5.44],[1030,5.15],[1018,4.06],[1145,4.25],[1053,3.81],[990,3.63],[1005,3.34],[1095,4.25],[1115,3.7],[990,2.9],[1020,2.79],[1090,2.98],[1125,3.7],
   [1145,3.6],[953,3.9],[1145,4.9]],
  [[1238,30.44],[1295,13.79],[1148,12.59],[1238,8.74],[1222,7.76],[1148,7.15],[1292,6.6],[1312,6.53],[1152,5.99],[1318,5.52],[1213,4.25],[1262,3.96],[1290,3.81],[1155,3.34],[1170,2.79],[1188,2.87],[1240,2.98],[1212,2.34],
   [1152,5],[1155,4.4],[1152,3.8],[1300,3.3]],
  [[1510,18.21],[1342,12.05],[1488,12.37],[1488,9.33],[1325,8.78],[1353,7.84],[1385,7.66],[1338,6.86],[1330,5.88],[1355,5.88],[1508,5.88],[1423,5.41],[1442,5.48],[1475,5.15],[1500,5.63],[1342,5.15],[1350,4.25],[1445,4.06],[1415,3.63],[1480,4.06],[1360,2.79],[1408,2.79],[1440,2.98],[1465,2.98],[1420,2.54],[1375,2.43]],
];

const STRUCTURE = { b: '#3c32ff', r: '#ff323e', g: '#3dd11e' } as Record<string, string>;
const MANHATTAN_NAME = '-Log10(P-Value)';

interface PanelCfg {
  rect: [number, number, number, number];
  back: [number, number, number, number];
  posRange: [number, number];
  yRange: [number, number];
  ticks: number[];
  grid: number[];
  gridType: string;
  threshold: number;
  thresholdRange: [number, number];
  base: number[][][];
  hits: number[][][];
  thresholdWidth: number;
  nameGap: number;
}

const PANELS: PanelCfg[] = [
  { rect: [88, 1165, 655, 1467], back: [40, 1158, 662, 1473], posRange: [140, 1508], yRange: [-.13, 12], ticks: cTicks, grid: cGrid, gridType: 'dashed', threshold: 5.47, thresholdRange: [125, 1530], base: cBase, hits: cHits, thresholdWidth: 2.5, nameGap: 22 },
  { rect: [738, 1165, 1311, 1466], back: [692, 1158, 1319, 1473], posRange: [140, 1523], yRange: [-.064, 7.12], ticks: dTicks, grid: dGrid, gridType: 'dashed', threshold: 5.5, thresholdRange: [133, 1533], base: dBase, hits: dHits, thresholdWidth: 3.5, nameGap: 22 },
  { rect: [88, 1577, 660, 1879], back: [40, 1572, 668, 1885], posRange: [140, 1520], yRange: [-.39, 38.7], ticks: eTicks, grid: eGrid, gridType: 'solid', threshold: 4.88, thresholdRange: [125, 1530], base: eBase, hits: eHits, thresholdWidth: 2.5, nameGap: 24 },
  { rect: [744, 1577, 1312, 1879], back: [697, 1572, 1320, 1885], posRange: [155, 1525], yRange: [-.36, 32.47], ticks: fTicks, grid: fGrid, gridType: 'solid', threshold: 4.72, thresholdRange: [145, 1550], base: fBase, hits: fHits, thresholdWidth: 3.5, nameGap: 24 },
];

const LETTERS: [string, number, number][] = [['A', 46, 27], ['B', 229, 379], ['C', 52, 1149], ['D', 703, 1149], ['E', 51, 1561], ['F', 704, 1561]];
const TITLES: [string, number, number][] = [['RSDW in 2018', 88, 1155], ['RRDW in 2018', 742, 1155], ['RSDW in 2019', 88, 1567], ['RRDW in 2019', 743, 1567]];

function buildOption() {
  const grids: any[] = [];
  const xAxes: any[] = [];
  const yAxes: any[] = [];
  const series: any[] = [];
  const graphics: any[] = [];

  // panel A
  const firstTop = [...blueTop, ...redTop, ...greenTop];
  const secondTop = [...blueMid, ...redMid, ...greenMid];
  const firstCodes = [...blueTop.map(() => 'b'), ...redTop.map(() => 'r'), ...greenTop.map(() => 'g')];
  const secondCodes = (blueSecond + redSecond + greenSecond).split('');
  const thirdCodes = firstCodes.map((c, i) => ['b', 'r', 'g'].find(k => k !== c && k !== secondCodes[i]) as string);
  grids.push({ left: 44.7, top: 34, width: 1249.3, height: 257.7 });
  xAxes.push({
    gridIndex: 0, type: 'category', data: firstTop.map((_, i) => i),
    axisLine: { show: false }, axisLabel: { show: false },
    axisTick: { show: true, interval: 0, length: 8, lineStyle: { color: '#333', width: 1.2 } },
  });
  yAxes.push({
    gridIndex: 0, type: 'value', min: 0, max: 1, offset: 12, splitLine: { show: false },
    axisLine: { show: true, lineStyle: { color: '#666', width: 2 } },
    axisTick: { show: true, inside: true, length: 5, lineStyle: { color: '#666', width: 2 } },
    axisLabel: { customValues: structureTicks, fontSize: 10, color: '#555', margin: 4, fontFamily: 'Liberation Sans' },
  });
  const layers = [
    { data: firstTop, codes: firstCodes },
    { data: secondTop.map((v, i) => +(v - firstTop[i]).toFixed(3)), codes: secondCodes },
    { data: secondTop.map(v => +(1 - v).toFixed(3)), codes: thirdCodes },
  ];
  layers.forEach(l => {
    series.push({
      type: 'bar', xAxisIndex: 0, yAxisIndex: 0, stack: 'q', barWidth: 5, data: l.data,
      itemStyle: { color: (p: any) => STRUCTURE[l.codes[p.dataIndex]] },
    });
  });

  // panel B
  grids.push({ left: 214.9, top: 401.3, width: 900.9, height: 595.3, show: true, backgroundColor: '#f0f0f0', borderColor: '#6a6a6a', borderWidth: 2 });
  xAxes.push({
    gridIndex: 1, type: 'value', min: -.223, max: 4.224, splitLine: { show: false },
    axisLine: { show: false, onZero: false },
    axisTick: { show: true, customValues: ldXTicks, length: 11, lineStyle: { color: '#555', width: 1.5 } },
    axisLabel: { customValues: ldXTicks, margin: 15, fontSize: 16, color: '#444', fontFamily: 'DejaVu Sans', formatter: (v: number) => (v === 0 ? '0.00E0' : `${v}.00E8`) },
    name: 'Physical distance', nameLocation: 'middle', nameGap: 47,
    nameTextStyle: { fontSize: 17, color: '#333', fontFamily: 'DejaVu Sans' },
  });
  yAxes.push({
    gridIndex: 1, type: 'value', min: -.0544, max: 1.0554, splitLine: { show: false },
    axisLine: { show: false, onZero: false },
    axisTick: { show: true, customValues: ldYTicks, length: 15, lineStyle: { color: '#555', width: 1.5 } },
    axisLabel: { customValues: ldYTicks, margin: 18, fontSize: 15, color: '#333', fontFamily: 'DejaVu Sans', formatter: (v: number) => (v === 1 ? '1.00' : v.toFixed(2).slice(1)) },
    name: 'R²', nameLocation: 'middle', nameGap: 70,
    nameTextStyle: { fontSize: 20, color: '#222', fontFamily: 'Liberation Sans' },
  });
  series.push({
    type: 'custom', xAxisIndex: 1, yAxisIndex: 1, data: [0], z: 2,
    renderItem: (_: any, api: any) => ({ type: 'polygon', shape: { points: ldMass.map(p => api.coord(p)) }, style: { fill: '#000' } }),
  });
  series.push({
    type: 'custom', xAxisIndex: 1, yAxisIndex: 1, data: ldTopRuns, z: 2,
    encode: { x: [0, 1] },
    renderItem: (_: any, api: any) => {
      const a = api.coord([api.value(0), 1]);
      const b = api.coord([api.value(1), 1]);
      return { type: 'rect', shape: { x: a[0], y: a[1] - 1.6, width: b[0] - a[0], height: 3.2 }, style: { fill: '#000' } };
    },
  });
  series.push({
    type: 'scatter', xAxisIndex: 1, yAxisIndex: 1, symbol: 'rect', symbolSize: 4, z: 3,
    itemStyle: { color: '#000' },
    data: [...ldRows.flatMap(([r2, xs]) => xs.map(x => [x, r2])), ...ldHalo, ...ldCloud, ...ldCloudDense],
  });
  series.push({
    type: 'line', xAxisIndex: 1, yAxisIndex: 1, smooth: 0.35, showSymbol: false, z: 4,
    lineStyle: { color: '#e8262e', width: 2.5 }, data: ldCurve,
  });

  // panels C to F
  PANELS.forEach((p, n) => {
    const gi = n + 2;
    grids.push({
      left: p.rect[0], top: p.rect[1], width: p.rect[2] - p.rect[0], height: p.rect[3] - p.rect[1],
      show: true, backgroundColor: '#fff', borderColor: '#c9c9c9', borderWidth: 1,
    });
    xAxes.push({
      gridIndex: gi, type: 'value', min: p.posRange[0], max: p.posRange[1],
      splitLine: { show: false }, axisTick: { show: false }, axisLabel: { show: false },
      axisLine: { show: true, onZero: false, lineStyle: { color: '#999', width: 1.5 } },
    });
    yAxes.push({
      gridIndex: gi, type: 'value', min: p.yRange[0], max: p.yRange[1], splitLine: { show: false },
      axisLine: { show: false, onZero: false }, axisTick: { show: false },
      axisLabel: { customValues: p.ticks, fontSize: 9, margin: 5, color: '#555', fontFamily: 'Roboto', formatter: (v: number) => v.toFixed(2) },
      name: MANHATTAN_NAME, nameLocation: 'middle', nameGap: p.nameGap,
      nameTextStyle: { fontSize: 11, color: '#666', fontFamily: 'Liberation Sans' },
    });
    graphics.push({
      type: 'rect', z: -1, silent: true,
      shape: { x: p.back[0], y: p.back[1], width: p.back[2] - p.back[0], height: p.back[3] - p.back[1] },
      style: { fill: '#eeeeee' },
    });
    series.push({
      type: 'line', xAxisIndex: gi, yAxisIndex: gi, data: [], z: 1,
      markLine: {
        silent: true, symbol: 'none', label: { show: false }, animation: false,
        lineStyle: { color: '#b8b8b8', type: p.gridType, width: 1 },
        data: p.grid.map(v => ({ yAxis: v })),
      },
    });
    p.base.forEach((env, c) => {
      series.push({
        type: 'line', xAxisIndex: gi, yAxisIndex: gi, showSymbol: false, z: 2, data: env, step: 'middle',
        lineStyle: { width: 0 }, itemStyle: { color: chromColors[c] },
        areaStyle: { color: chromColors[c], opacity: 1, origin: 'start' },
      });
    });
    p.hits.forEach((pts, c) => {
      series.push({
        type: 'scatter', xAxisIndex: gi, yAxisIndex: gi, z: 3, data: pts,
        symbol: chromSymbols[c], symbolSize: c === 6 ? 5 : 6, symbolRotate: chromRotate[c],
        itemStyle: { color: hitColors[c] },
      });
    });
    series.push({
      type: 'line', xAxisIndex: gi, yAxisIndex: gi, clip: false, showSymbol: false, z: 5,
      lineStyle: { color: '#000', width: p.thresholdWidth },
      data: [[p.thresholdRange[0], p.threshold], [p.thresholdRange[1], p.threshold]],
    });
  });

  LETTERS.forEach(([text, x, y]) => {
    graphics.push({ type: 'text', x, y, style: { text, font: 'bold 24px "Liberation Sans"', fill: '#000', textVerticalAlign: 'bottom' } });
  });
  TITLES.forEach(([text, x, y]) => {
    graphics.push({ type: 'text', x, y, style: { text, font: 'bold 23px "Open Sans"', fill: '#111', textVerticalAlign: 'bottom' } });
  });

  return { animation: false, backgroundColor: '#fff', grid: grids, xAxis: xAxes, yAxis: yAxes, series, graphic: { elements: graphics } };
}

export default function App() {
  const chartRef = useRef<HTMLDivElement>(null);

  useEffect(() => {
    if (!chartRef.current) return;
    const chart = echarts.init(chartRef.current, undefined, { renderer: 'svg' });
    chart.setOption(buildOption() as any);
    return () => chart.dispose();
  }, []);

  return <div ref={chartRef} style={{ position: 'absolute', left: 0, top: 0, width: 1332, height: 1896 }} />;
}
